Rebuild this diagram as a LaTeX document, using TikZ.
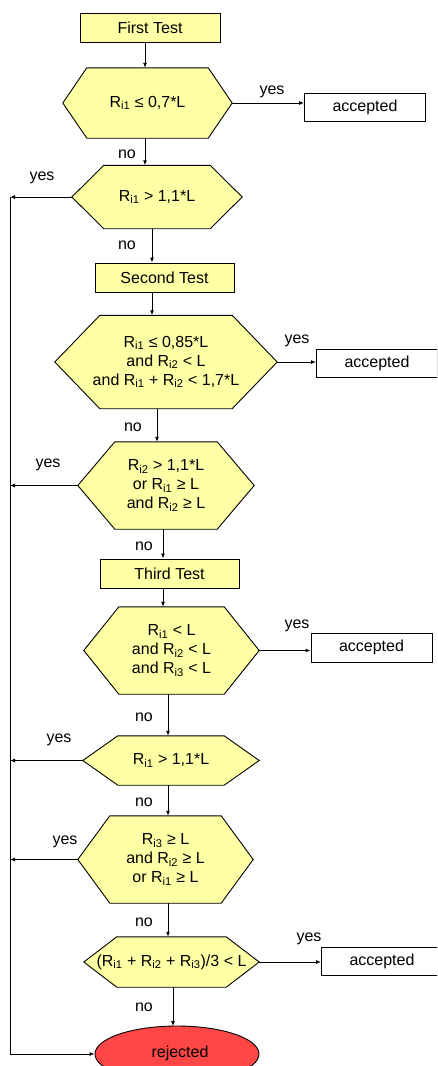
\documentclass[tikz,border=0pt]{standalone}
\usepackage{fontspec}
\setmainfont{Liberation Sans}
\usetikzlibrary{arrows.meta,shapes.geometric,backgrounds}
\definecolor{hexyellow}{RGB}{255,255,166}
\definecolor{rejred}{RGB}{255,70,70}
\newcommand{\Rsub}[1]{R\textsubscript{i#1}}
\tikzset{
  every node/.style={font=\fontsize{16}{19}\selectfont},
  boxbase/.style={draw=black, line width=0.9pt, inner sep=0pt, align=center},
  testbox/.style={boxbase, rectangle, fill=hexyellow},
  accbox/.style={boxbase, rectangle, fill=white, minimum width=121pt, minimum height=28pt},
  hexnode/.style={inner sep=0pt, align=center},
  hexshape/.style={draw=black, line width=0.9pt, fill=hexyellow, line join=miter},
  rejnode/.style={boxbase, ellipse, fill=rejred, minimum width=164pt, minimum height=56pt},
  arr/.style={draw=black, line width=0.9pt, -{Latex[length=5pt,width=4pt]}},
  lbl/.style={inner sep=0pt}
}
\begin{document}
\begin{tikzpicture}[x=1pt,y=-1pt]
\clip (0,0) rectangle (437,1066);
% test boxes
\node[testbox, minimum width=140pt, minimum height=29pt] (ft) at (150,27.5) {First Test};
\node[testbox, minimum width=139pt, minimum height=29pt] (st) at (164.5,277.5) {Second Test};
\node[testbox, minimum width=139pt, minimum height=29pt] (tt) at (169.5,573.5) {Third Test};
% decisions
\node[hexnode, minimum width=169pt, minimum height=70pt] (h1) at (147.5,103) {\Rsub{1} ≤ 0,7*L};
\node[hexnode, minimum width=170pt, minimum height=63pt] (h2) at (157,197) {\Rsub{1} > 1,1*L};
\node[hexnode, minimum width=222pt, minimum height=93pt] (h3) at (166,362) {\Rsub{1} ≤ 0,85*L\\and \Rsub{2} < L\\and \Rsub{1} + \Rsub{2} < 1,7*L};
\node[hexnode, minimum width=176pt, minimum height=87pt] (h4) at (166,485.5) {\Rsub{2} > 1,1*L\\or \Rsub{1} ≥ L\\and \Rsub{2} ≥ L};
\node[hexnode, minimum width=175pt, minimum height=87pt] (h5) at (171.5,650.5) {\Rsub{1} < L\\and \Rsub{2} < L\\and \Rsub{3} < L};
\node[hexnode, minimum width=176pt, minimum height=49pt] (h6) at (171,760.5) {\Rsub{1} > 1,1*L};
\node[hexnode, minimum width=175pt, minimum height=87pt] (h7) at (165.5,859.5) {\Rsub{3} ≥ L\\and \Rsub{2} ≥ L\\or \Rsub{1} ≥ L};
\node[hexnode, minimum width=175pt, minimum height=50pt] (h8) at (171.5,962) {(\Rsub{1} + \Rsub{2} + \Rsub{3})/3 < L};
% outcomes
\node[accbox] (a1) at (365,107) {accepted};
\node[accbox] (a2) at (377,363) {accepted};
\node[accbox, minimum height=29pt] (a3) at (371.5,647.5) {accepted};
\node[accbox] (a4) at (382,961) {accepted};
\node[rejnode] (rej) at (177,1054) {};
\node[lbl] (rejt) at (180,1053) {rejected};
% hexagon outlines
\begin{scope}[on background layer]
\foreach \n/\i in {h1/24,h2/32,h3/45,h4/37,h5/35,h6/35,h7/32,h8/33}{
  \filldraw[hexshape] (\n.west) -- ([xshift=\i pt]\n.north west) -- ([xshift=-\i pt]\n.north east)
    -- (\n.east) -- ([xshift=-\i pt]\n.south east) -- ([xshift=\i pt]\n.south west) -- cycle;
}
\end{scope}
% x positions of the downward connectors
\coordinate (c1) at (145,0);
\coordinate (c2) at (152,0);
\coordinate (c3) at (157,0);
\coordinate (c4) at (163,0);
\coordinate (c5) at (168,0);
\coordinate (c6) at (173,0);
\coordinate (L) at (10,0);
% downward connectors
\draw[arr] (ft.south -| c1) -- (h1.north -| c1);
\draw[arr] (h1.south -| c1) -- (h2.north -| c1);
\draw[arr] (h2.south -| c2) -- (st.north -| c2);
\draw[arr] (st.south -| c2) -- (h3.north -| c2);
\draw[arr] (h3.south -| c3) -- (h4.north -| c3);
\draw[arr] (h4.south -| c4) -- (tt.north -| c4);
\draw[arr] (tt.south -| c4) -- (h5.north -| c4);
\draw[arr] (h5.south -| c5) -- (h6.north -| c5);
\draw[arr] (h6.south -| c5) -- (h7.north -| c5);
\draw[arr] (h7.south -| c5) -- (h8.north -| c5);
\draw[arr] (h8.south -| c6) -- ([yshift=-0.5pt]rej.north -| c6);
% accepted connectors
\draw[arr] (h1.east) -- (h1.east -| a1.west);
\draw[arr] (h3.east) -- (h3.east -| a2.west);
\draw[arr] (h5.east) -- (h5.east -| a3.west);
\draw[arr] (h8.east) -- (h8.east -| a4.west);
% rejected connectors
\draw[arr] (h2.west) -- (h2.west -| L);
\draw[arr] (h4.west) -- (h4.west -| L);
\draw[arr] (h6.west) -- (h6.west -| L);
\draw[arr] (h7.west) -- (h7.west -| L);
\draw[arr] (h2.west -| L) -- (rej.west -| L) -- (rej.west);
% labels
\node[lbl] (y1) at (272,92) {yes};
\node[lbl] (n1) at (127,154) {no};
\node[lbl] (y2) at (42,178) {yes};
\node[lbl] (n2) at (127,245) {no};
\node[lbl] (y3) at (297,341) {yes};
\node[lbl] (n3) at (133,427) {no};
\node[lbl] (y4) at (48,465) {yes};
\node[lbl] (n4) at (144,546) {no};
\node[lbl] (y5) at (297,626) {yes};
\node[lbl] (n5) at (144,717) {no};
\node[lbl] (y6) at (59,740) {yes};
\node[lbl] (n6) at (144,802) {no};
\node[lbl] (y7) at (65,842) {yes};
\node[lbl] (n7) at (144,922) {no};
\node[lbl] (y8) at (309,939) {yes};
\node[lbl] (n8) at (144,1007) {no};
\end{tikzpicture}
\end{document}
